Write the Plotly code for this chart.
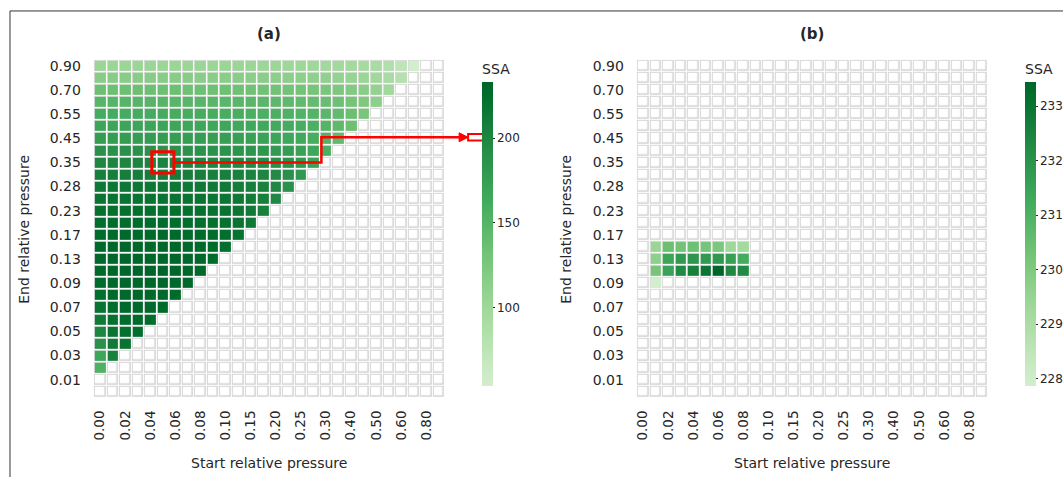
import numpy as np
import plotly.graph_objects as go

W, H = 1063, 477

# ---------------- data ----------------
start_labels = ["0.00", "0.01", "0.02", "0.03", "0.04", "0.05", "0.06", "0.07", "0.08", "0.09",
                "0.10", "0.125", "0.15", "0.175", "0.20", "0.225", "0.25", "0.275", "0.30", "0.35",
                "0.40", "0.45", "0.50", "0.55", "0.60", "0.70", "0.80", "0.90"]
end_labels = ["0.90", "0.80", "0.70", "0.60", "0.55", "0.50", "0.45", "0.40", "0.35", "0.30",
              "0.28", "0.25", "0.23", "0.20", "0.17", "0.15", "0.13", "0.11", "0.09", "0.08",
              "0.07", "0.06", "0.05", "0.04", "0.03", "0.02", "0.01", "0.00"]

# panel (a): SSA per end-pressure row (top -> bottom), starting at start index 0
a_r00 = [104, 104, 104, 104, 104, 104, 104, 104, 104, 103, 103, 103, 103, 102, 102, 101, 101, 100, 99, 98, 97, 95, 92, 86, 75, 54]
a_r01 = [117, 117, 117, 117, 117, 117, 117, 117, 116, 116, 116, 116, 115, 115, 114, 114, 113, 112, 111, 109, 107, 104, 99, 92, 82]
a_r02 = [136, 136, 136, 136, 136, 136, 136, 135, 135, 135, 135, 134, 134, 133, 133, 132, 131, 129, 127, 125, 121, 116, 109, 99]
a_r03 = [150, 150, 150, 150, 150, 150, 149, 149, 149, 149, 148, 148, 147, 147, 146, 145, 143, 141, 139, 135, 130, 123, 113]
a_r04 = [161, 161, 161, 161, 161, 161, 160, 160, 160, 160, 159, 159, 158, 157, 156, 155, 153, 151, 148, 143, 137, 128]
a_r05 = [169, 169, 169, 169, 169, 169, 168, 168, 168, 167, 167, 166, 165, 164, 163, 161, 159, 156, 151, 145, 136]
a_r06 = [177, 177, 177, 177, 177, 177, 176, 176, 176, 175, 175, 174, 173, 171, 169, 167, 164, 159, 153, 144]
a_r07 = [189, 189, 189, 189, 189, 188, 188, 188, 187, 187, 186, 185, 184, 182, 180, 177, 173, 167, 158]
a_r08 = [200, 201, 201, 202, 202, 202, 201, 201, 200, 200, 199, 198, 196, 194, 191, 187, 181, 172]
a_r09 = [208, 209, 209, 209, 209, 209, 209, 208, 208, 207, 206, 205, 203, 200, 196, 190, 181]
a_r10 = [214, 215, 215, 215, 215, 215, 215, 214, 214, 213, 212, 210, 208, 204, 198, 189]
a_r11 = [219, 220, 220, 220, 220, 220, 219, 219, 218, 217, 216, 214, 211, 206, 198]
a_r12 = [223, 224, 224, 224, 224, 224, 223, 223, 222, 221, 219, 217, 213, 206]
a_r13 = [226, 227, 227, 227, 227, 227, 226, 226, 225, 224, 222, 219, 214]
a_r14 = [228, 229, 229, 229, 229, 229, 229, 228, 228, 227, 225, 221]
a_r15 = [229, 231, 231, 231, 231, 231, 231, 230, 229, 228, 225]
a_r16 = [230, 232, 232, 232, 232, 232, 232, 231, 230, 228]
a_r17 = [229, 232, 232, 233, 233.4, 233, 232, 231, 229]
a_r18 = [228, 231, 232, 232, 232, 232, 231, 229]
a_r19 = [225, 229, 230, 231, 231, 230, 228]
a_r20 = [220, 227, 229, 230, 230, 228]
a_r21 = [212, 223, 227, 228, 227]
a_r22 = [200, 218, 224, 225]
a_r23 = [189, 212, 219]
a_r24 = [168, 205]
a_r25 = [155]
a_rows = [a_r00, a_r01, a_r02, a_r03, a_r04, a_r05, a_r06, a_r07, a_r08, a_r09, a_r10, a_r11, a_r12,
          a_r13, a_r14, a_r15, a_r16, a_r17, a_r18, a_r19, a_r20, a_r21, a_r22, a_r23, a_r24, a_r25]

# panel (b): only a few combinations; values start at start index 1
b_start = 1
b_r15 = [229.4, 230.45, 230.3, 230.4, 230.2, 230.1, 229.3, 229.2]
b_r16 = [229.7, 231.45, 231.8, 231.9, 231.8, 231.85, 231.6, 231.2]
b_r17 = [230.2, 231.5, 232.3, 232.6, 232.95, 233.45, 232.35, 232.3]
b_r18 = [227.87]
b_rows = {15: b_r15, 16: b_r16, 17: b_r17, 18: b_r18}

highlight_row, highlight_col = 8, 5   # end 0.35, start 0.05

# ---------------- matrices ----------------
n_r, n_c = len(end_labels), len(start_labels)
za = np.full((n_r, n_c), np.nan)
for r, vals in enumerate(a_rows):
    za[r, :len(vals)] = vals
zb = np.full((n_r, n_c), np.nan)
for r, vals in b_rows.items():
    zb[r, b_start:b_start + len(vals)] = vals

xs = list(range(n_c))
ys = list(range(n_r))

greens = [[0.0, "#d3eecd"], [0.0714, "#c7e9c0"], [0.25, "#a1d99b"], [0.4286, "#74c476"],
          [0.6071, "#41ab5d"], [0.7857, "#238b45"], [0.9643, "#006d2c"], [1.0, "#00652a"]]

TXT = "#262626"
FONT = "DejaVu Sans"

# pixel layout helpers
def fx(p):
    return p / W

def fy(p):
    return 1 - p / H

grid_top, grid_bot = 58, 397.5
dom_a = [fx(92), fx(444)]
dom_b = [fx(636), fx(988)]
dom_y = [fy(grid_bot), fy(grid_top)]
cb_top, cb_bot = 83, 385          # coloured bar
cb_box_top = cb_top - 24          # including the title above it
cb_len = (cb_bot - cb_box_top) / H
cb_y = fy((cb_box_top + cb_bot) / 2)

fig = go.Figure()

def add_panel(z, xa, ya, cb_x):
    ones = np.ones((n_r, n_c))
    fig.add_trace(go.Heatmap(z=ones, x=xs, y=ys, xaxis=xa, yaxis=ya, colorscale=[[0, "#d6d6d6"], [1, "#d6d6d6"]],
                             showscale=False, xgap=1, ygap=1, hoverinfo="skip"))
    fig.add_trace(go.Heatmap(z=ones, x=xs, y=ys, xaxis=xa, yaxis=ya, colorscale=[[0, "#ffffff"], [1, "#ffffff"]],
                             showscale=False, xgap=3.6, ygap=3.6, hoverinfo="skip"))
    zmin, zmax = float(np.nanmin(z)), float(np.nanmax(z))
    fig.add_trace(go.Heatmap(
        z=z, x=xs, y=ys, xaxis=xa, yaxis=ya, colorscale=greens, zmin=zmin, zmax=zmax,
        xgap=2, ygap=2, hoverongaps=False,
        colorbar=dict(x=cb_x, xanchor="left", xpad=0, y=cb_y, yanchor="middle", ypad=0,
                      len=cb_len, lenmode="fraction", thickness=11, outlinewidth=0,
                      ticks="outside", ticklen=2, tickcolor=TXT,
                      tickfont=dict(family=FONT, size=12, color=TXT),
                      title=dict(text="SSA", side="top", font=dict(family=FONT, size=14, color=TXT)))))
    return zmin, zmax

a_min, a_max = add_panel(za, "x", "y", fx(481))
add_panel(zb, "x2", "y2", fx(1025))

common_x = dict(range=[-0.5, n_c - 0.5], tickmode="array", tickvals=xs[::2], ticktext=start_labels[::2],
                tickangle=-90, showgrid=False, zeroline=False, showline=False, ticks="",
                ticklabelstandoff=9, tickfont=dict(family=FONT, size=13.5, color=TXT))
common_y = dict(range=[n_r - 0.5, -0.5], tickmode="array", tickvals=ys[::2], ticktext=end_labels[::2],
                showgrid=False, zeroline=False, showline=False, ticks="",
                ticklabelstandoff=12, tickfont=dict(family=FONT, size=14, color=TXT), domain=dom_y)

fig.update_layout(
    width=W, height=H, margin=dict(l=0, r=0, t=0, b=0),
    paper_bgcolor="white", plot_bgcolor="white", showlegend=False,
    xaxis=dict(domain=dom_a, anchor="y", **common_x),
    yaxis=dict(anchor="x", **common_y),
    xaxis2=dict(domain=dom_b, anchor="y2", **common_x),
    yaxis2=dict(anchor="x2", **common_y),
)

# titles and axis titles
ann = []
for cx, label, ytx in [((92 + 444) / 2, "(a)", 22), ((636 + 988) / 2, "(b)", 565)]:
    ann.append(dict(x=fx(cx), y=fy(32), xref="paper", yref="paper", text="<b>%s</b>" % label, showarrow=False,
                    font=dict(family=FONT, size=15, color=TXT), xanchor="center", yanchor="middle"))
    ann.append(dict(x=fx(cx), y=fy(463), xref="paper", yref="paper", text="Start relative pressure",
                    showarrow=False, font=dict(family=FONT, size=14, color=TXT), xanchor="center", yanchor="middle"))
    ann.append(dict(x=fx(ytx), y=fy((grid_top + grid_bot) / 2), xref="paper", yref="paper",
                    text="End relative pressure", textangle=-90, showarrow=False,
                    font=dict(family=FONT, size=14, color=TXT), xanchor="center", yanchor="middle"))
fig.update_layout(annotations=ann)

# highlight box + arrow to colorbar value
RED = "#ff0000"
def dx_to_paper(x):
    return dom_a[0] + (x + 0.5) / n_c * (dom_a[1] - dom_a[0])

def dy_to_paper(y):
    return dom_y[1] - (y + 0.5) / n_r * (dom_y[1] - dom_y[0])

hv = za[highlight_row, highlight_col]
frac = (hv - a_min) / (a_max - a_min)
y_cb = fy(cb_bot) + frac * (cb_bot - cb_top) / H
hb = 0.88
shapes = [
    dict(type="rect", xref="x", yref="y", x0=highlight_col - hb, x1=highlight_col + hb,
         y0=highlight_row - hb, y1=highlight_row + hb, line=dict(color=RED, width=3)),
]
x_start = dx_to_paper(highlight_col + hb)
y_start = dy_to_paper(highlight_row)
x_turn = fx(320)
x_head0, x_head1 = fx(458), fx(467)
shapes.append(dict(type="path", xref="paper", yref="paper",
                   path="M %f,%f L %f,%f L %f,%f L %f,%f" % (x_start, y_start, x_turn, y_start, x_turn, y_cb, x_head0, y_cb),
                   line=dict(color=RED, width=2.5)))
dh = 4.5 / H
shapes.append(dict(type="path", xref="paper", yref="paper",
                   path="M %f,%f L %f,%f L %f,%f Z" % (x_head0, y_cb + dh, x_head1, y_cb, x_head0, y_cb - dh),
                   fillcolor=RED, line=dict(color=RED, width=1)))
rh = 3.2 / H
shapes.append(dict(type="rect", xref="paper", yref="paper", x0=fx(467), x1=fx(491), y0=y_cb - rh, y1=y_cb + rh,
                   line=dict(color=RED, width=2)))
# figure frame (top and left edges)
shapes.append(dict(type="line", xref="paper", yref="paper", x0=fx(8), x1=1, y0=fy(9), y1=fy(9),
                   line=dict(color="#333333", width=1)))
shapes.append(dict(type="line", xref="paper", yref="paper", x0=fx(8), x1=fx(8), y0=0, y1=fy(9),
                   line=dict(color="#333333", width=1)))
fig.update_layout(shapes=shapes)

fig.write_html("out.html", config={"displayModeBar": False},
               post_script="document.body.style.margin='0';document.body.style.overflow='hidden';")
